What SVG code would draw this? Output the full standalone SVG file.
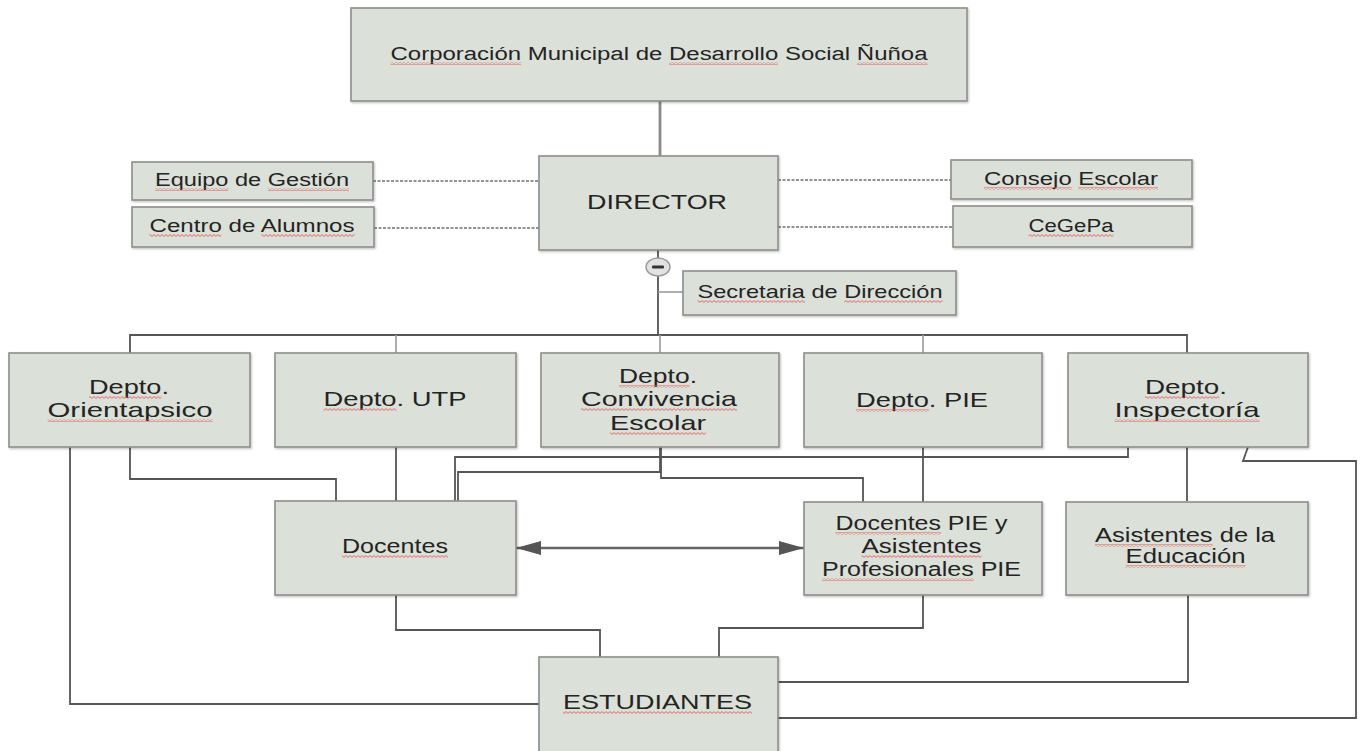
<svg xmlns="http://www.w3.org/2000/svg" width="1363" height="751" viewBox="0 0 1363 751">
<defs>
<style>
.box{fill:#dbe1d8;stroke:#8e8e8e;stroke-width:1.6}
.t{font-family:"Liberation Sans",Arial,sans-serif;fill:#242424;text-anchor:middle}
.c{fill:none;stroke:#555;stroke-width:1.8}
.cl{fill:none;stroke:#a0a0a0;stroke-width:1.7}
.cg{fill:none;stroke:#8a8a8a;stroke-width:2.8}
.dash{fill:none;stroke:#707070;stroke-width:1.3;stroke-dasharray:3 1.5}
.ar{fill:#555}
.wv{fill:url(#wave)}
</style>
<pattern id="wave" x="0" y="0" width="4" height="3" patternUnits="userSpaceOnUse">
<path d="M0,2.4 L2,0.6 L4,2.4" fill="none" stroke="#e65a58" stroke-width="0.9"/>
</pattern>
<filter id="sh" x="-5%" y="-5%" width="112%" height="115%">
<feDropShadow dx="1" dy="1.2" stdDeviation="0.8" flood-color="#000" flood-opacity="0.25"/>
</filter>
<marker id="ah" viewBox="0 0 25 14" refX="25" refY="7" markerWidth="25" markerHeight="14" markerUnits="userSpaceOnUse" orient="auto-start-reverse">
<path d="M0,0 L25,7 L0,14 Z" class="ar"/>
</marker>
</defs>
<rect width="1363" height="751" fill="#ffffff"/>

<g id="connectors">
<line class="cg" x1="660" y1="101" x2="660" y2="156"/>
<line class="dash" x1="373" y1="181" x2="539" y2="181"/>
<line class="dash" x1="374" y1="228" x2="539" y2="228"/>
<line class="dash" x1="778" y1="180" x2="951" y2="180"/>
<line class="dash" x1="778" y1="227" x2="953" y2="227"/>
<line class="c" x1="658" y1="250" x2="658" y2="335"/>
<line class="cl" x1="658" y1="292" x2="683" y2="292"/>
<polyline class="c" points="130,353 130,335 1187,335 1187,353"/>
<line class="cl" x1="396" y1="335" x2="396" y2="353"/>
<line class="cl" x1="660" y1="335" x2="660" y2="353"/>
<line class="cl" x1="923" y1="335" x2="923" y2="353"/>
<polyline class="c" points="130,447 130,479 336,479 336,501"/>
<polyline class="c" points="70,447 70,704 540,704"/>
<line class="c" x1="396" y1="447" x2="396" y2="501"/>
<polyline class="c" points="1128,447 1128,457 455,457 455,501"/>
<polyline class="c" points="660,447 660,472 458,472 458,501"/>
<polyline class="c" points="661,447 661,478 863,478 863,502"/>
<line class="c" x1="923" y1="447" x2="923" y2="502"/>
<line class="c" x1="1187" y1="447" x2="1187" y2="501"/>
<polyline class="c" points="1248,447 1243,461 1356,461 1356,718 778,718"/>
<polyline class="c" points="396,595 396,630 600,630 600,657"/>
<polyline class="c" points="923,595 923,628 719,628 719,657"/>
<polyline class="c" points="1188,595 1188,682 778,682"/>
<line x1="516" y1="548" x2="804" y2="548" stroke="#666" stroke-width="2.4" marker-start="url(#ah)" marker-end="url(#ah)"/>
<g id="collapse">
<ellipse cx="658" cy="267" rx="12" ry="9" fill="#e2e2e2" stroke="#9a9a9a" stroke-width="1.4"/>
<rect x="652" y="265.5" width="12" height="3" rx="1" fill="#333"/>
</g>
</g>

<g id="n-corporacion">
<rect class="box" filter="url(#sh)" x="351" y="8" width="616" height="93"/>
<text class="t" x="659" y="60" font-size="18" textLength="537" lengthAdjust="spacingAndGlyphs">Corporación Municipal de Desarrollo Social Ñuñoa</text>
</g>
<g id="n-director">
<rect class="box" filter="url(#sh)" x="539" y="156" width="239" height="94"/>
<text class="t" x="657" y="209" font-size="20" textLength="140" lengthAdjust="spacingAndGlyphs">DIRECTOR</text>
</g>
<g id="n-equipo">
<rect class="box" filter="url(#sh)" x="132" y="162" width="241" height="38"/>
<text class="t" x="252" y="186" font-size="18" textLength="194" lengthAdjust="spacingAndGlyphs">Equipo de Gestión</text>
</g>
<g id="n-centro">
<rect class="box" filter="url(#sh)" x="132" y="207" width="242" height="40"/>
<text class="t" x="252" y="232" font-size="18" textLength="205" lengthAdjust="spacingAndGlyphs">Centro de Alumnos</text>
</g>
<g id="n-consejo">
<rect class="box" filter="url(#sh)" x="951" y="160" width="241" height="39"/>
<text class="t" x="1071" y="185" font-size="18" textLength="174" lengthAdjust="spacingAndGlyphs">Consejo Escolar</text>
</g>
<g id="n-cegepa">
<rect class="box" filter="url(#sh)" x="953" y="206" width="239" height="41"/>
<text class="t" x="1071" y="232" font-size="18" textLength="85" lengthAdjust="spacingAndGlyphs">CeGePa</text>
</g>
<g id="n-secretaria">
<rect class="box" filter="url(#sh)" x="683" y="271" width="273" height="44"/>
<text class="t" x="820" y="298" font-size="18.5" textLength="245" lengthAdjust="spacingAndGlyphs">Secretaria de Dirección</text>
</g>

<g id="n-orientapsico">
<rect class="box" filter="url(#sh)" x="9" y="353" width="241" height="94"/>
<text class="t" x="129" y="394" font-size="21" textLength="80" lengthAdjust="spacingAndGlyphs">Depto.</text>
<text class="t" x="130" y="417" font-size="21" textLength="165" lengthAdjust="spacingAndGlyphs">Orientapsico</text>
</g>
<g id="n-utp">
<rect class="box" filter="url(#sh)" x="275" y="353" width="241" height="94"/>
<text class="t" x="395" y="406" font-size="21" textLength="143" lengthAdjust="spacingAndGlyphs">Depto. UTP</text>
</g>
<g id="n-convivencia">
<rect class="box" filter="url(#sh)" x="541" y="353" width="238" height="94"/>
<text class="t" x="658" y="383" font-size="21" textLength="78" lengthAdjust="spacingAndGlyphs">Depto.</text>
<text class="t" x="659" y="406" font-size="21" textLength="156" lengthAdjust="spacingAndGlyphs">Convivencia</text>
<text class="t" x="658" y="430" font-size="21" textLength="96" lengthAdjust="spacingAndGlyphs">Escolar</text>
</g>
<g id="n-pie">
<rect class="box" filter="url(#sh)" x="804" y="353" width="238" height="94"/>
<text class="t" x="922" y="407" font-size="21" textLength="132" lengthAdjust="spacingAndGlyphs">Depto. PIE</text>
</g>
<g id="n-inspectoria">
<rect class="box" filter="url(#sh)" x="1068" y="353" width="240" height="94"/>
<text class="t" x="1186" y="394" font-size="21" textLength="82" lengthAdjust="spacingAndGlyphs">Depto.</text>
<text class="t" x="1187" y="417" font-size="21" textLength="145" lengthAdjust="spacingAndGlyphs">Inspectoría</text>
</g>

<g id="n-docentes">
<rect class="box" filter="url(#sh)" x="275" y="501" width="241" height="94"/>
<text class="t" x="395" y="553" font-size="20" textLength="106" lengthAdjust="spacingAndGlyphs">Docentes</text>
</g>
<g id="n-docentes-pie">
<rect class="box" filter="url(#sh)" x="804" y="502" width="238" height="93"/>
<text class="t" x="921.5" y="530" font-size="19.5" textLength="172" lengthAdjust="spacingAndGlyphs">Docentes PIE y</text>
<text class="t" x="921.5" y="553" font-size="19.5" textLength="120" lengthAdjust="spacingAndGlyphs">Asistentes</text>
<text class="t" x="921.5" y="576" font-size="19.5" textLength="199" lengthAdjust="spacingAndGlyphs">Profesionales PIE</text>
</g>
<g id="n-asistentes">
<rect class="box" filter="url(#sh)" x="1066" y="502" width="242" height="93"/>
<text class="t" x="1185" y="542" font-size="19.5" textLength="180" lengthAdjust="spacingAndGlyphs">Asistentes de la</text>
<text class="t" x="1185.5" y="563" font-size="19.5" textLength="120" lengthAdjust="spacingAndGlyphs">Educación</text>
</g>
<g id="n-estudiantes">
<rect class="box" filter="url(#sh)" x="539" y="657" width="239" height="100"/>
<text class="t" x="657.5" y="709" font-size="21" textLength="189" lengthAdjust="spacingAndGlyphs">ESTUDIANTES</text>
</g>

<g id="spell-marks">
<rect class="wv" x="390.5" y="62" width="130.6" height="3"/>
<rect class="wv" x="669" y="62" width="109" height="3"/>
<rect class="wv" x="857" y="62" width="70.5" height="3"/>
<rect class="wv" x="155" y="188" width="73.4" height="3"/>
<rect class="wv" x="267.7" y="188" width="81.3" height="3"/>
<rect class="wv" x="149.5" y="234" width="71.9" height="3"/>
<rect class="wv" x="261.3" y="234" width="93.2" height="3"/>
<rect class="wv" x="984" y="187" width="87.7" height="3"/>
<rect class="wv" x="1078.3" y="187" width="79.7" height="3"/>
<rect class="wv" x="1028.5" y="234" width="85" height="3"/>
<rect class="wv" x="697.5" y="300" width="107.4" height="3"/>
<rect class="wv" x="844.3" y="300" width="98.2" height="3"/>
<rect class="wv" x="89" y="396" width="72.4" height="3"/>
<rect class="wv" x="47.5" y="419" width="165" height="3"/>
<rect class="wv" x="323.5" y="408" width="73" height="3"/>
<rect class="wv" x="619" y="385" width="70.6" height="3"/>
<rect class="wv" x="581" y="408" width="156" height="3"/>
<rect class="wv" x="610" y="432" width="96" height="3"/>
<rect class="wv" x="856" y="409" width="72.8" height="3"/>
<rect class="wv" x="1145" y="396" width="74.3" height="3"/>
<rect class="wv" x="1114.5" y="419" width="145" height="3"/>
<rect class="wv" x="342" y="555" width="106" height="3"/>
<rect class="wv" x="835.5" y="532" width="105.4" height="3"/>
<rect class="wv" x="861.5" y="555" width="120" height="3"/>
<rect class="wv" x="822" y="578" width="151.7" height="3"/>
<rect class="wv" x="1095" y="544" width="117.6" height="3"/>
<rect class="wv" x="1125.5" y="565" width="120" height="3"/>
<rect class="wv" x="563" y="711" width="189" height="3"/>
</g>
</svg>
